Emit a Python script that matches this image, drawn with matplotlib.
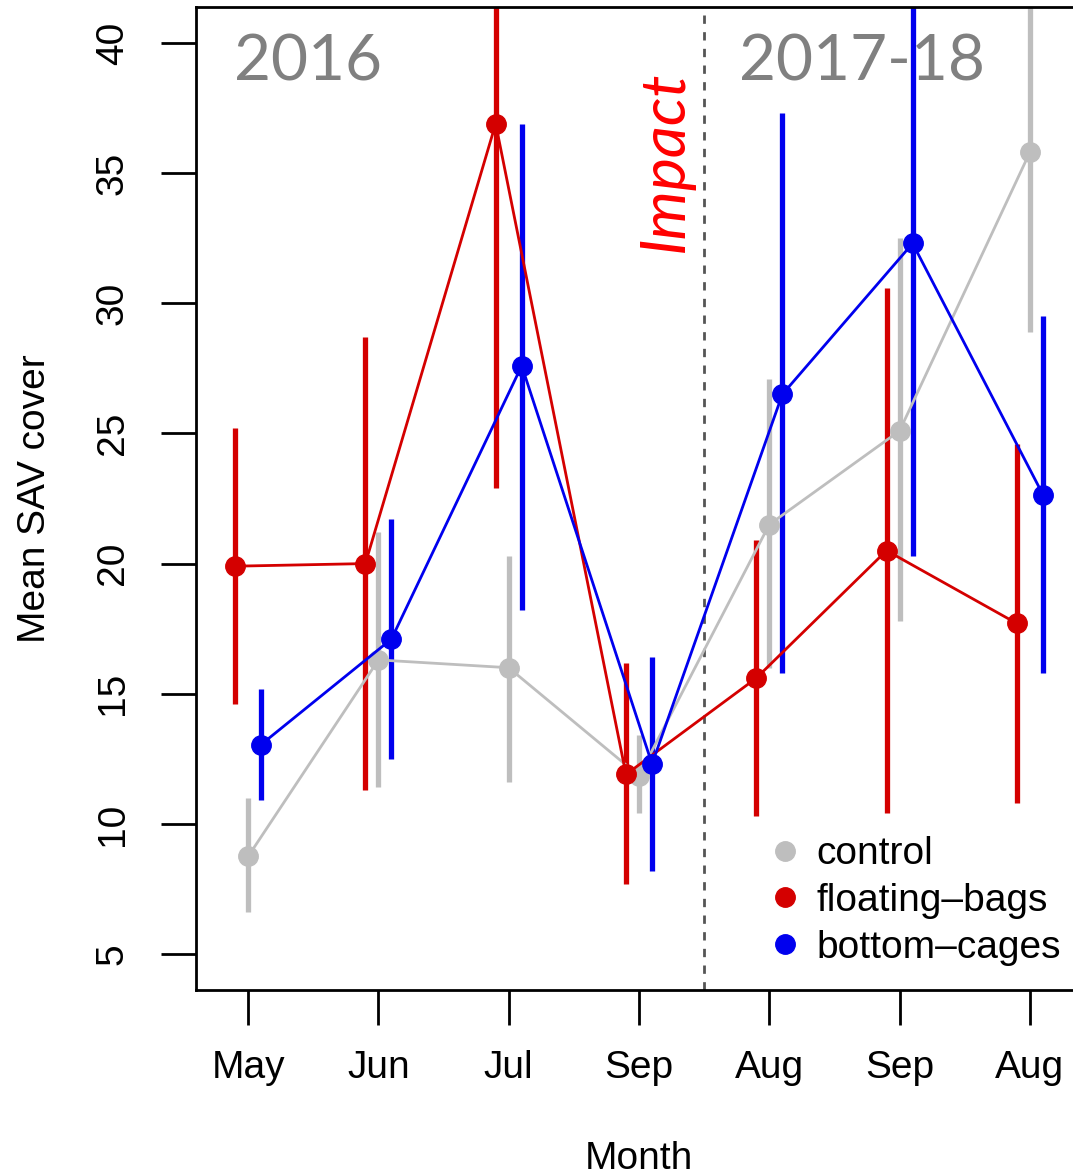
import matplotlib.pyplot as plt
from matplotlib.lines import Line2D

plt.rcParams['font.family'] = ['Liberation Sans', 'DejaVu Sans']

months = ['May', 'Jun', 'Jul', 'Sep', 'Aug', 'Sep', 'Aug']
groups = ['control', 'floating\u2013bags', 'bottom\u2013cages']
colors = ['#bebebe', '#d40000', '#0000ee']
offsets = [0.0, -0.1, 0.1]

control_mean = [8.75, 16.3, 16.0, 11.85, 21.5, 25.1, 35.8]
control_lo = [6.6, 11.4, 11.6, 10.4, 16.0, 17.8, 28.9]
control_hi = [11.0, 21.2, 20.3, 13.4, 27.1, 32.5, 42.0]

bags_mean = [19.9, 20.0, 36.9, 11.9, 15.6, 20.5, 17.7]
bags_lo = [14.6, 11.3, 22.9, 7.7, 10.3, 10.4, 10.8]
bags_hi = [25.2, 28.7, 42.0, 16.2, 20.9, 30.6, 24.6]

cages_mean = [13.05, 17.1, 27.6, 12.3, 26.5, 32.3, 22.65]
cages_lo = [10.9, 12.5, 18.2, 8.2, 15.8, 20.3, 15.8]
cages_hi = [15.2, 21.7, 36.9, 16.4, 37.3, 42.0, 29.5]

means = [control_mean, bags_mean, cages_mean]
lows = [control_lo, bags_lo, cages_lo]
highs = [control_hi, bags_hi, cages_hi]

fig = plt.figure(figsize=(10.73, 11.75), dpi=100)
ax = fig.add_axes([196 / 1073, 185 / 1175, 886 / 1073, 983 / 1175])

x = list(range(1, len(months) + 1))
for m, lo, hi, c, off in zip(means, lows, highs, colors, offsets):
    xs = [v + off for v in x]
    ax.vlines(xs, lo, hi, color=c, linewidth=3.8, zorder=2)
    ax.plot(xs, m, '-o', color=c, linewidth=2, markersize=14, zorder=3)

ax.axvline(4.5, color='#555555', linestyle=(0, (3, 3)), linewidth=2, zorder=1)

ax.set_xlim(0.6, 7.4)
ax.set_ylim(3.62, 41.38)
ax.set_xticks(x)
ax.set_xticklabels(months)
ax.set_yticks([5, 10, 15, 20, 25, 30, 35, 40])
ax.tick_params(axis='both', labelsize=28, length=25, width=2)
ax.tick_params(axis='x', pad=18)
ax.tick_params(axis='y', labelrotation=90, pad=22)
for lab in ax.get_yticklabels():
    lab.set_va('center')
for s in ax.spines.values():
    s.set_linewidth(2)

ax.set_xlabel('Month', fontsize=28, labelpad=40)
ax.set_ylabel('Mean SAV cover', fontsize=28, labelpad=30)

ax.text(1.46, 39.25, '2016', fontsize=46, color='#808080', family='Lato',
        ha='center', va='center')
ax.text(5.71, 39.25, '2017-18', fontsize=46, color='#808080', family='Lato',
        ha='center', va='center')
ax.text(4.2, 35.45, 'Impact', fontsize=45, color='red', family='Lato',
        style='italic', rotation=90, ha='center', va='center')

handles = [Line2D([], [], marker='o', linestyle='', color=c, markersize=14)
           for c in colors]
ax.legend(handles, groups, loc='center left', frameon=False, fontsize=28,
          bbox_to_anchor=(766 / 1073, 1 - 901 / 1175),
          bbox_transform=fig.transFigure, borderaxespad=0, borderpad=0,
          handlelength=1.0, handletextpad=0.3, labelspacing=0.28)

fig.savefig('out.png', dpi=100)
